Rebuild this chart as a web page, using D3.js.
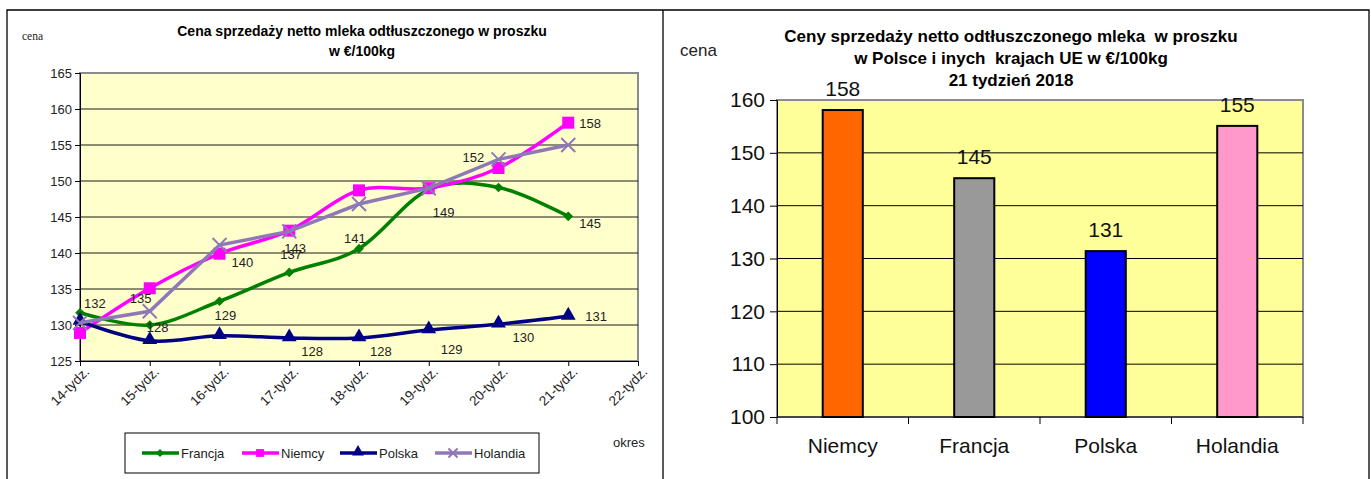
<!DOCTYPE html>
<html>
<head>
<meta charset="utf-8">
<script src="https://cdn.jsdelivr.net/npm/d3@7"></script>
<style>
  body { margin: 0; background: #fff; }
  text { font-family: "Liberation Sans", Arial, sans-serif; }
</style>
</head>
<body>
<script>
// ---- data: line chart (weekly prices, €/100kg)
var weeks = ["14-tydz.", "15-tydz.", "16-tydz.", "17-tydz.", "18-tydz.", "19-tydz.", "20-tydz.", "21-tydz.", "22-tydz."];
var francja  = [131.7, 130.0, 133.3, 137.3, 140.6, 148.8, 149.1, 145.1];
var niemcy   = [128.9, 135.1, 139.9, 143.1, 148.7, 149.0, 151.8, 158.1];
var polska   = [130.5, 127.8, 128.5, 128.2, 128.2, 129.3, 130.1, 131.2];
var holandia = [130.3, 131.9, 141.1, 143.0, 146.8, 149.0, 153.0, 155.0];
var yTicksLeft = [125, 130, 135, 140, 145, 150, 155, 160, 165];

// data labels on the line chart: series, week index, offset from point
var lineLabels = [
  ["Francja", 0, 4, -5], ["Niemcy", 1, -20, 15], ["Polska", 1, -3, -9],
  ["Polska", 2, -5, -16], ["Niemcy", 2, 12, 13], ["Francja", 3, -9, -13],
  ["Niemcy", 3, -5, 22], ["Polska", 3, 12, 18], ["Francja", 4, -15, -6],
  ["Polska", 4, 11, 18], ["Niemcy", 5, 4, 29], ["Polska", 5, 12, 24],
  ["Niemcy", 6, -36, -6], ["Polska", 6, 14, 18], ["Niemcy", 7, 11, 5],
  ["Francja", 7, 11, 12], ["Polska", 7, 17, 5]
];

// ---- data: bar chart (week 21, 2018)
var countries = ["Niemcy", "Francja", "Polska", "Holandia"];
var prices = [158.1, 145.2, 131.4, 155.1];
var priceLabels = ["158", "145", "131", "155"];
var yTicksRight = [100, 110, 120, 130, 140, 150, 160];

var svg = d3.select("body").append("svg").attr("width", 1371).attr("height", 479);

// frames
svg.append("path").attr("d", "M7,479V10H1369V479M663,10V479")
  .attr("fill", "none").attr("stroke", "#000").attr("stroke-width", 1.3);

// ================= LEFT: line chart =================
var L = {x0: 80, x1: 638, y0: 73, y1: 361};
var xL = d3.scalePoint().domain(weeks).range([L.x0, L.x1]);
var yL = d3.scaleLinear().domain([125, 165]).range([L.y1, L.y0]);

var left = svg.append("g");
left.append("rect").attr("x", L.x0).attr("y", L.y0).attr("width", L.x1 - L.x0).attr("height", L.y1 - L.y0)
  .attr("fill", "#FFFFCC").attr("stroke", "#8c8c8c").attr("stroke-width", 2);

left.selectAll("line.grid").data(yTicksLeft.slice(1, -1)).enter().append("line")
  .attr("x1", L.x0).attr("x2", L.x1).attr("y1", d => yL(d)).attr("y2", d => yL(d))
  .attr("stroke", "#000").attr("stroke-width", 0.9);

var yAxL = left.append("g").attr("transform", "translate(" + L.x0 + ",0)")
  .call(d3.axisLeft(yL).tickValues(yTicksLeft).tickSize(5).tickPadding(3));
yAxL.select(".domain").attr("stroke", "#000");
yAxL.selectAll("text").attr("font-size", 13).attr("fill", "#222").attr("font-family", "Liberation Sans");

var xAxL = left.append("g").attr("transform", "translate(0," + L.y1 + ")")
  .call(d3.axisBottom(xL).tickSize(5).tickSizeOuter(0));
xAxL.select(".domain").attr("stroke", "#000");
xAxL.selectAll("text").attr("font-size", 13.5).attr("fill", "#222").attr("font-family", "Liberation Sans")
  .attr("text-anchor", "end").attr("dy", 0)
  .attr("transform", "translate(4,6) rotate(-45)");

var series = [
  {name: "Francja", values: francja, color: "#008000", marker: "diamond", curve: d3.curveCardinal.tension(0)},
  {name: "Niemcy", values: niemcy, color: "#FF00FF", marker: "square", curve: d3.curveCardinal.tension(0)},
  {name: "Polska", values: polska, color: "#000080", marker: "triangle", curve: d3.curveCardinal.tension(0)},
  {name: "Holandia", values: holandia, color: "#8F78B8", marker: "x", curve: d3.curveLinear}
];

function drawMarker(g, type, color, x, y, s) {
  if (type === "diamond") {
    g.append("path").attr("d", d3.symbol(d3.symbolDiamond2, 60 * s)())
      .attr("transform", "translate(" + x + "," + y + ")").attr("fill", color);
  } else if (type === "square") {
    g.append("rect").attr("x", x - 6 * s).attr("y", y - 6 * s).attr("width", 12 * s).attr("height", 12 * s).attr("fill", color);
  } else if (type === "triangle") {
    g.append("path").attr("d", d3.symbol(d3.symbolTriangle, 95 * s)())
      .attr("transform", "translate(" + x + "," + (y - 1) + ")").attr("fill", color);
  } else {
    var r = 7 * s;
    g.append("path").attr("d", "M" + (x - r) + "," + (y - r) + "L" + (x + r) + "," + (y + r) + "M" + (x - r) + "," + (y + r) + "L" + (x + r) + "," + (y - r))
      .attr("stroke", color).attr("stroke-width", 2);
  }
}

var lineGen = d3.line().x((d, i) => xL(weeks[i])).y(d => yL(d));
series.forEach(function(s) {
  var g = left.append("g");
  g.append("path").datum(s.values).attr("d", lineGen.curve(s.curve))
    .attr("fill", "none").attr("stroke", s.color).attr("stroke-width", 3.5);
  s.values.forEach(function(v, i) { drawMarker(g, s.marker, s.color, xL(weeks[i]), yL(v), 1); });
});

var byName = {};
series.forEach(s => byName[s.name] = s.values);
left.selectAll("text.lbl").data(lineLabels).enter().append("text")
  .attr("x", d => xL(weeks[d[1]]) + d[2])
  .attr("y", d => yL(byName[d[0]][d[1]]) + d[3])
  .attr("font-size", 13).attr("fill", "#222")
  .text(d => Math.round(byName[d[0]][d[1]]));

// title and axis names
left.append("text").attr("x", 362).attr("y", 36).attr("text-anchor", "middle")
  .attr("font-size", 14).attr("font-weight", "bold").text("Cena sprzedaży netto mleka  odtłuszczonego w proszku");
left.append("text").attr("x", 362).attr("y", 56).attr("text-anchor", "middle")
  .attr("font-size", 14).attr("font-weight", "bold").text("w €/100kg");
left.append("text").attr("x", 22).attr("y", 40).attr("font-size", 11.5)
  .style("font-family", "Liberation Serif").attr("fill", "#222").text("cena");
left.append("text").attr("x", 613).attr("y", 447).attr("font-size", 13).attr("fill", "#222").text("okres");

// legend
var leg = left.append("g");
leg.append("rect").attr("x", 125).attr("y", 433).attr("width", 414).attr("height", 40)
  .attr("fill", "#fff").attr("stroke", "#000").attr("stroke-width", 1);
var legX = [142, 242, 340, 435];
series.forEach(function(s, i) {
  var x = legX[i];
  leg.append("line").attr("x1", x).attr("x2", x + 37).attr("y1", 453).attr("y2", 453)
    .attr("stroke", s.color).attr("stroke-width", 3.5);
  drawMarker(leg, s.marker, s.color, x + 18, 453, 0.65);
  leg.append("text").attr("x", x + 39).attr("y", 458).attr("font-size", 13).attr("fill", "#222").text(s.name);
});

// ================= RIGHT: bar chart =================
var R = {x0: 777, x1: 1303, y0: 100, y1: 417};
var xR = d3.scaleBand().domain(countries).range([R.x0, R.x1]).paddingInner(0.695).paddingOuter(0.3475);
var yR = d3.scaleLinear().domain([100, 160]).range([R.y1, R.y0]);
var right = svg.append("g");

right.append("rect").attr("x", R.x0).attr("y", R.y0).attr("width", R.x1 - R.x0).attr("height", R.y1 - R.y0)
  .attr("fill", "#FFFF99").attr("stroke", "#8c8c8c").attr("stroke-width", 2);
right.selectAll("line.grid").data(yTicksRight.slice(1, -1)).enter().append("line")
  .attr("x1", R.x0).attr("x2", R.x1).attr("y1", d => yR(d)).attr("y2", d => yR(d))
  .attr("stroke", "#000").attr("stroke-width", 1);

var yAxR = right.append("g").attr("transform", "translate(" + R.x0 + ",0)")
  .call(d3.axisLeft(yR).tickValues(yTicksRight).tickSize(7).tickPadding(5));
yAxR.select(".domain").attr("stroke", "#000");
yAxR.selectAll("text").attr("font-size", 21).attr("fill", "#111").attr("font-family", "Liberation Sans");

var xAxR = right.append("g").attr("transform", "translate(0," + R.y1 + ")");
xAxR.append("line").attr("x1", R.x0).attr("x2", R.x1).attr("stroke", "#000");
var step = xR.step();
xAxR.selectAll("line.tk").data(d3.range(countries.length + 1)).enter().append("line")
  .attr("x1", i => R.x0 + i * step).attr("x2", i => R.x0 + i * step).attr("y1", 0).attr("y2", 7).attr("stroke", "#000");
xAxR.selectAll("text").data(countries).enter().append("text")
  .attr("x", d => xR(d) + xR.bandwidth() / 2).attr("y", 36).attr("text-anchor", "middle")
  .attr("font-size", 21).attr("fill", "#111").text(d => d);

var barColors = ["#FF6600", "#999999", "#0000FF", "#FF99CC"];
right.selectAll("rect.bar").data(countries).enter().append("rect")
  .attr("x", d => xR(d)).attr("width", xR.bandwidth())
  .attr("y", (d, i) => yR(prices[i])).attr("height", (d, i) => yR(100) - yR(prices[i]))
  .attr("fill", (d, i) => barColors[i]).attr("stroke", "#000").attr("stroke-width", 2);
right.selectAll("text.val").data(countries).enter().append("text")
  .attr("x", d => xR(d) + xR.bandwidth() / 2).attr("y", (d, i) => yR(prices[i]) - 14)
  .attr("text-anchor", "middle").attr("font-size", 21).attr("fill", "#111").text((d, i) => priceLabels[i]);

var rt = ["Ceny sprzedaży netto odtłuszczonego mleka  w proszku", "w Polsce i inych  krajach UE w €/100kg", "21 tydzień 2018"];
right.selectAll("text.title").data(rt).enter().append("text")
  .attr("x", 1011).attr("y", (d, i) => 42 + i * 22).attr("text-anchor", "middle").attr("font-size", 17)
  .attr("font-weight", "bold").style("white-space", "pre").text(d => d);
right.append("text").attr("x", 680).attr("y", 56).attr("font-size", 17).attr("fill", "#222").text("cena");
</script>
</body>
</html>
